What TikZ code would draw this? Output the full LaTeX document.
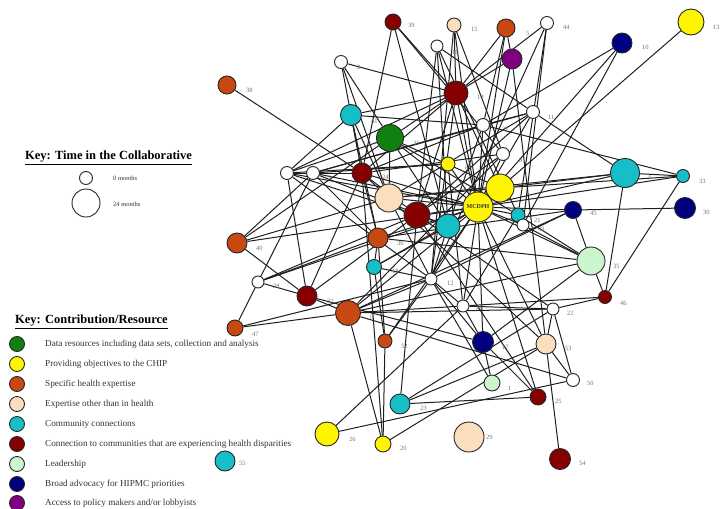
\documentclass[tikz,border=0pt]{standalone}
\usepackage{fontspec}
\setmainfont{Liberation Serif}
\usetikzlibrary{backgrounds}
\definecolor{cgreen}{RGB}{16,128,16}
\definecolor{cyellow}{RGB}{255,245,0}
\definecolor{corange}{RGB}{200,72,18}
\definecolor{cpeach}{RGB}{252,222,190}
\definecolor{ccyan}{RGB}{22,190,200}
\definecolor{cdred}{RGB}{135,0,0}
\definecolor{clgreen}{RGB}{205,245,205}
\definecolor{cnavy}{RGB}{0,0,128}
\definecolor{cpurple}{RGB}{128,0,128}
\newcommand\nd[5]{\node[nd,fill=#5,minimum size=#4pt] (n#1) at (#2,#3) {};}
\newcommand\lb[4]{\node[lbl] (l#1) at (#2,#3) {#4};}
\begin{document}
\begin{tikzpicture}[x=1pt,y=-1pt,
  nd/.style={circle,draw=black!85,line width=0.9pt,inner sep=0pt},
  lbl/.style={font=\fontsize{6.5}{6.5}\selectfont,text=black!55,anchor=west,inner sep=0pt},
  edge/.style={draw=black!88,line width=1pt},
  keyhead/.style={font=\fontsize{12.5}{13}\selectfont\bfseries,anchor=west,inner sep=0pt},
  keytxt/.style={font=\fontsize{9.2}{10}\selectfont,text=black!80,anchor=west,inner sep=0pt},
  keysm/.style={font=\fontsize{6.5}{7}\selectfont,text=black!80,anchor=west,inner sep=0pt}]
\useasboundingbox (0,0) rectangle (721,509);
% nodes
\nd{39}{393}{22}{16}{cdred}
\nd{15}{454}{25}{14}{cpeach}
\nd{5}{506}{28}{18}{corange}
\nd{44}{547}{23}{13}{white}
\nd{16}{437}{46}{12}{white}
\nd{2}{341}{62}{13}{white}
\nd{3}{512}{59}{20}{cpurple}
\nd{10}{622}{43}{20}{cnavy}
\nd{13}{691}{22}{26}{cyellow}
\nd{38}{227}{85}{18}{corange}
\nd{19}{456}{93}{24}{cdred}
\nd{11}{533}{112}{13}{white}
\nd{41}{351}{115}{21}{ccyan}
\nd{31}{390}{138}{27}{cgreen}
\nd{w1}{483}{125}{13}{white}
\nd{w2}{503}{154}{13}{white}
\nd{y6}{448}{164}{14}{cyellow}
\nd{yb}{500}{188}{28}{cyellow}
\nd{7}{625}{173}{29}{ccyan}
\nd{33}{683}{176}{13}{ccyan}
\nd{45}{573}{210}{17}{cnavy}
\nd{30}{685}{208}{21}{cnavy}
\nd{21}{518}{215}{14}{ccyan}
\nd{43}{523}{225}{12}{white}
\nd{35}{591}{261}{28}{clgreen}
\nd{46}{605}{297}{13}{cdred}
\nd{22}{553}{309}{12}{white}
\nd{49}{463}{306}{12}{white}
\nd{12}{431}{279}{12}{white}
\nd{17}{483}{342}{21}{cnavy}
\nd{53}{546}{344}{20}{cpeach}
\nd{50}{573}{380}{13}{white}
\nd{1}{492}{383}{16}{clgreen}
\nd{25}{538}{397}{16}{cdred}
\nd{29}{469}{437}{30}{cpeach}
\nd{54}{560}{459}{21}{cdred}
\nd{26}{327}{434}{24}{cyellow}
\nd{20}{383}{444}{16}{cyellow}
\nd{23}{400}{404}{20}{ccyan}
\nd{55}{225}{461}{20}{ccyan}
\nd{52}{385}{341}{14}{corange}
\nd{9}{348}{313}{25}{corange}
\nd{32}{307}{296}{20}{cdred}
\nd{28}{258}{282}{12}{white}
\nd{47}{235}{328}{16}{corange}
\nd{40}{237}{243}{20}{corange}
\nd{36}{378}{238}{20}{corange}
\nd{18}{374}{267}{15}{ccyan}
\nd{24}{362}{173}{20}{cdred}
\nd{34}{389}{198}{28}{cpeach}
\nd{27}{417}{215}{26}{cdred}
\nd{c}{448}{226}{24}{ccyan}
\nd{wa}{287}{173}{13}{white}
\nd{wb}{313}{173}{13}{white}
\node[nd,fill=cyellow,minimum size=30pt,font=\fontsize{6}{6}\selectfont\bfseries,text=black!80] (nM) at (478,207) {MCDPH};
% edges
\begin{scope}[on background layer]
\foreach \a/\b in {39/24,39/19,39/c,39/w2,15/M,15/19,15/w2,15/12,16/11,16/M,16/c,16/27,16/21,
 5/19,5/3,5/M,5/w1,44/19,44/21,44/43,44/12,3/19,3/M,3/53,2/19,2/24,2/31,2/34,10/w1,10/M,10/43,13/M,38/24,
 19/M,19/31,19/41,19/24,19/yb,19/27,19/12,19/wa,11/7,11/w1,11/M,11/wb,11/34,11/27,
 41/wa,41/w1,41/24,41/34,41/36,31/M,31/yb,31/21,31/wa,31/40,31/c,
 w1/M,w1/wb,w1/c,w1/24,w1/33,w2/M,w2/24,w2/27,w2/9,y6/M,y6/wb,y6/wa,y6/49,
 yb/M,yb/7,yb/33,yb/34,7/33,7/46,7/M,7/34,33/46,33/M,45/M,45/30,45/35,45/12,45/9,
 35/46,35/43,35/M,35/17,35/21,35/36,46/22,46/49,22/53,22/49,22/50,22/27,22/9,
 53/54,53/50,53/23,53/M,53/24,17/1,17/25,17/M,17/49,17/12,17/32,50/9,1/12,
 25/23,25/M,25/27,26/49,26/50,20/9,20/52,20/53,23/27,23/22,52/18,52/36,52/M,52/12,
 9/32,9/47,9/M,9/12,9/49,9/35,28/32,28/wb,28/36,28/27,28/M,47/28,47/12,
 32/wa,32/40,32/27,32/24,40/wb,40/34,40/M,wa/wb,wa/M,wa/27,wa/12,wb/M,wb/24,wb/36,wb/c,
 24/M,24/27,24/20,24/36,34/M,34/31,34/12,36/18,36/M,36/45,18/12,18/M,18/c,12/M,12/49,12/c,
 49/M,49/21,c/M,21/M,43/M,27/M,27/c}
  \draw[edge] (n\a) -- (n\b);
\end{scope}
% labels
\lb{39}{408}{25}{39}
\lb{15}{471}{29}{15}
\lb{5}{526}{33}{5}
\lb{44}{563}{27}{44}
\lb{16}{452}{52}{16}
\lb{2}{357}{67}{2}
\lb{10}{642}{47}{10}
\lb{13}{713}{27}{13}
\lb{38}{246}{90}{38}
\lb{19}{477}{97}{19}
\lb{11}{548}{117}{11}
\lb{41}{371}{121}{41}
\lb{31}{413}{143}{31}
\lb{w1}{502}{129}{37}
\lb{w2}{519}{160}{8}
\lb{y6}{465}{168}{6}
\lb{7}{648}{178}{7}
\lb{33}{699}{181}{33}
\lb{45}{590}{213}{45}
\lb{30}{703}{212}{30}
\lb{21}{534}{220}{21}
\lb{43}{538}{229}{43}
\lb{35}{613}{266}{35}
\lb{46}{620}{303}{46}
\lb{22}{567}{313}{22}
\lb{49}{476}{308}{49}
\lb{12}{447}{283}{12}
\lb{17}{502}{347}{17}
\lb{53}{565}{348}{53}
\lb{50}{587}{383}{50}
\lb{1}{508}{388}{1}
\lb{25}{555}{401}{25}
\lb{29}{486}{437}{29}
\lb{54}{579}{463}{54}
\lb{26}{349}{439}{26}
\lb{20}{400}{448}{20}
\lb{23}{420}{408}{23}
\lb{55}{239}{463}{55}
\lb{52}{401}{346}{52}
\lb{9}{370}{317}{9}
\lb{32}{327}{301}{32}
\lb{28}{273}{286}{28}
\lb{47}{252}{334}{47}
\lb{40}{256}{248}{40}
\lb{36}{397}{243}{36}
\lb{18}{392}{271}{18}
\lb{24}{382}{177}{24}
\lb{wb}{328}{178}{3}
% key: time
\node[keyhead] (kt) at (25,158) {\underline{Key: Time in the Collaborative}};
\node[nd,fill=white,minimum size=13pt] (kc0) at (86,178) {};
\node[nd,fill=white,minimum size=28pt] (kc24) at (86,203) {};
\node[keysm] (kt0) at (113,178) {0 months};
\node[keysm] (kt24) at (113,204) {24 months};
% key: contribution
\node[keyhead] (kr) at (15,322) {\underline{Key: Contribution/Resource}};
\foreach \y/\c/\t [count=\i] in {
 344/cgreen/{Data resources including data sets, collection and analysis},
 364/cyellow/{Providing objectives to the CHIP},
 384/corange/{Specific health expertise},
 404/cpeach/{Expertise other than in health},
 424/ccyan/{Community connections},
 444/cdred/{Connection to communities that are experiencing health disparities},
 464/clgreen/{Leadership},
 484/cnavy/{Broad advocacy for HIPMC priorities},
 503/cpurple/{Access to policy makers and/or lobbyists}}{
  \node[nd,fill=\c,minimum size=15pt] (kd\i) at (17,\y) {};
  \node[keytxt] (kl\i) at (45,\y) {\t};
}
\end{tikzpicture}
\end{document}
